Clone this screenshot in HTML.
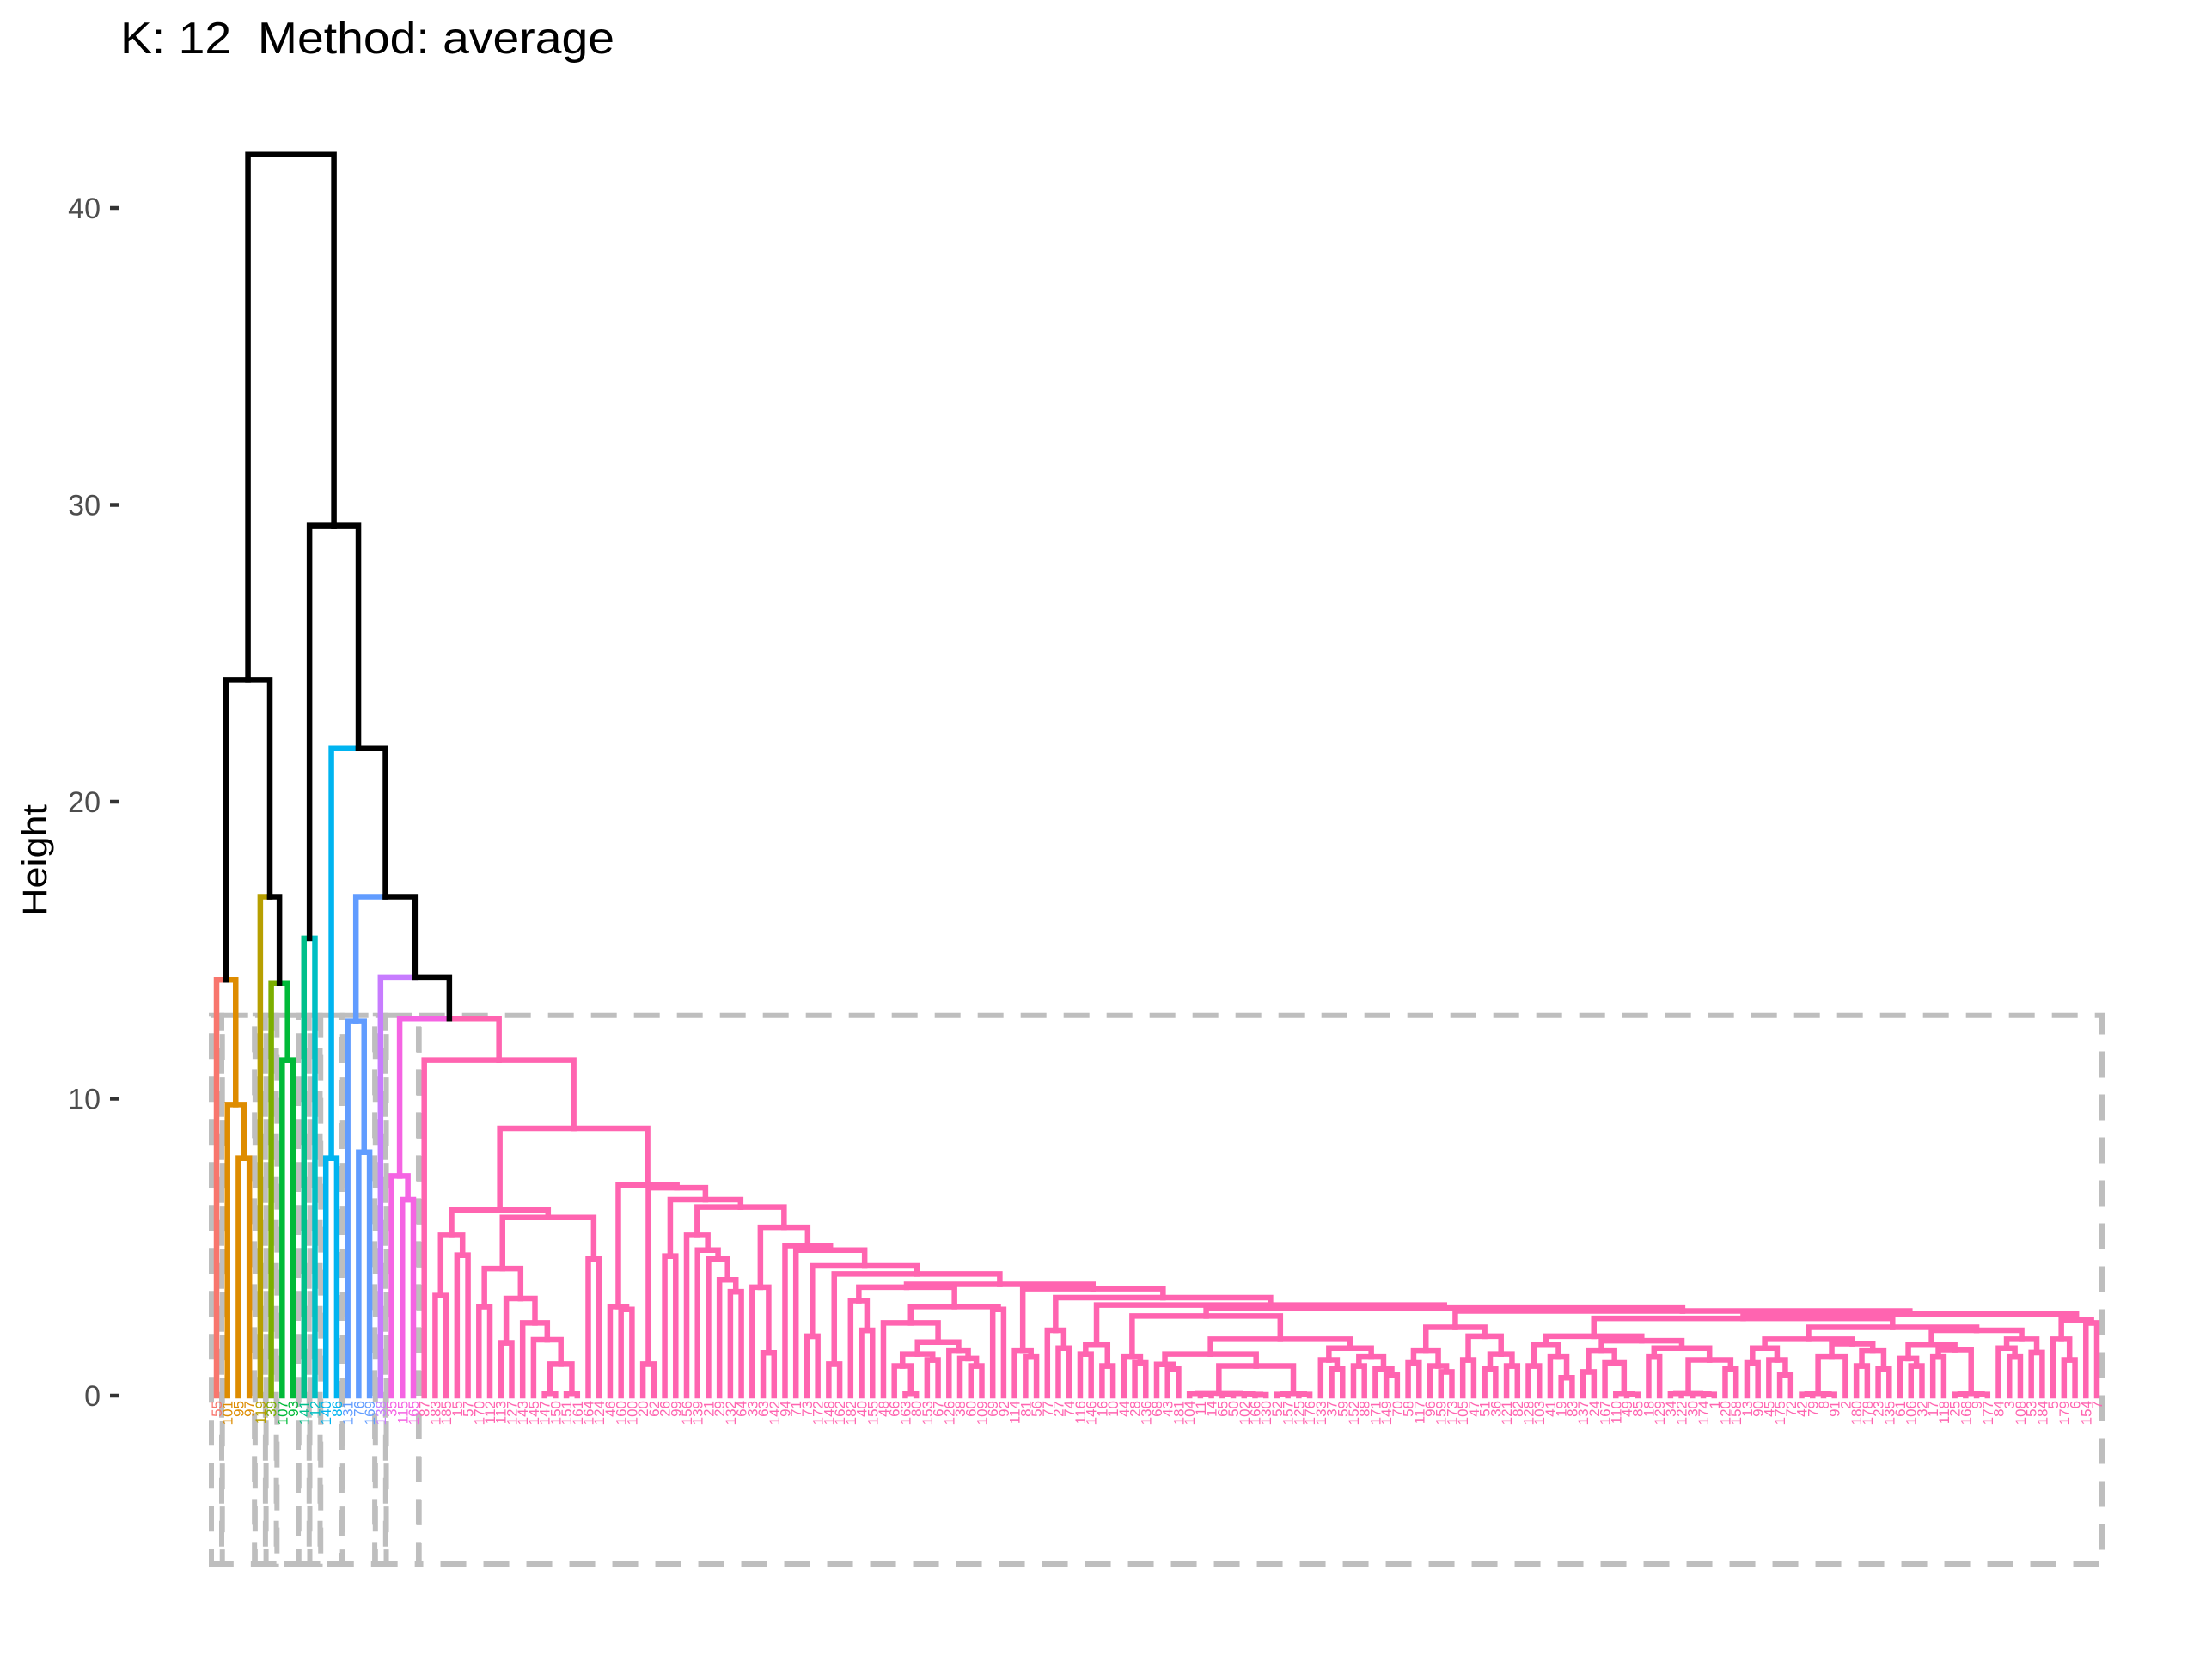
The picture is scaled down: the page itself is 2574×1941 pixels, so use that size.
<!DOCTYPE html>
<html><head><meta charset="utf-8"><style>
html,body{margin:0;padding:0;background:#fff;}
svg{display:block;font-family:"Liberation Sans",sans-serif;}
</style></head><body>
<svg id="chart" width="2574" height="1941" viewBox="0 0 2574 1941" xmlns="http://www.w3.org/2000/svg">
<rect x="0" y="0" width="2574" height="1941" fill="#fff"/>
<text x="140" y="62" font-size="52" textLength="575" lengthAdjust="spacingAndGlyphs" fill="#000">K: 12&#160;&#160;Method: average</text>
<text transform="translate(54,1001) rotate(-90)" text-anchor="middle" font-size="40" textLength="130" lengthAdjust="spacingAndGlyphs" fill="#000">Height</text>
<g id="axis"></g>
<g id="boxes"></g>
<g id="tree"></g>
<g id="labels"></g>
</svg>
<script>
// ---- data ----
const yTicks = [0, 10, 20, 30, 40];
const clusterSizes = [1, 3, 1, 1, 2, 1, 1, 2, 3, 1, 3, 154];
const clusterColors = ["#F8766D","#DE8C00","#B79F00","#7CAE00","#00BA38","#00C08B","#00BFC4","#00B4F0","#619CFF","#C77CFF","#F564E3","#FF64B0"];
const cutHeight = 12.8;
const leafLabels = [55,101,95,97,119,39,107,93,141,12,140,86,131,76,169,138,35,115,165,87,183,185,15,57,170,112,113,127,143,145,147,150,151,161,164,124,46,160,100,20,62,26,99,156,139,21,29,132,64,33,63,142,94,71,73,172,148,162,182,40,155,48,66,163,80,153,67,126,38,60,109,69,92,114,81,56,77,27,74,116,146,16,10,44,28,136,68,43,181,104,11,14,65,50,102,166,130,52,157,125,176,133,37,59,152,88,171,149,70,58,117,96,159,173,105,47,51,36,121,82,128,103,41,19,83,137,24,167,110,49,85,18,129,34,122,30,174,1,120,158,13,90,45,175,72,42,79,8,91,2,180,178,23,135,61,106,32,17,118,25,168,9,177,84,3,108,53,184,5,179,6,154,7];
// tree: [height, left, right]; 0 = leaf
const A1 = [5.4, [3.37,0,0], [4.73,0,0]];
const A2a = [4.28, [3.0,0,0], [3.27, [1.78,0,0], [2.45, 0, [1.88, 0, [1.06, [0.05,0,0], [0.05,0,0]]]]]];
const A = [6.25, A1, [6.0, A2a, [4.6,0,0]]];
const G1 = [3.65, [3.2,0,[2.2,0,0]], [3.0, [2.45, 0, [1.8, [1.4, [1.0,0,[0.05,0,0]], [1.2,0,0]], [1.5, 0, [1.25, 0, [1.0,0,0]]]]], [2.9, 0, 0]]];
const Z7 = [0.06, [0.05,0,[0.04,0,0]], [0.05,[0.04,0,0],[0.04,0,[0.03,0,0]]]];
const Z4 = [0.05, [0.04,0,0], [0.04,0,0]];
const Z3 = [0.05, 0, [0.04,0,0]];
const Z5 = [0.06, [0.05,0,0], [0.05,0,[0.04,0,0]]];
const T7 = [1.9, [1.4, [1.05,0,[0.9,0,0]], [1.0, Z7, Z4]], [1.6, [1.2,0,[0.9,0,0]], [1.3, [1.0,0,0], [0.9,0,[0.7,0,0]]]]];
const T6 = [2.68, [1.3,0,[1.1,0,0]], T7];
const T10 = [2.3, [1.5, [1.1,0,0], [1.0,0,[0.8,0,0]]], [2.0, [1.2,0,0], [1.4, [0.9,0,0], [1.0,0,0]]]];
const T15 = [2.0, [1.7, [1.0,0,0], [1.3,0,[0.6,0,0]]], [1.85, [1.5, [0.8,0,0], [1.1,0,Z3]], [1.6, [1.3,0,0], [1.2, Z5, [0.9,0,0]]]]];
const T16a = [1.9, [1.6, [1.1,0,0], [1.2,0,[0.7,0,0]]], [1.75, [1.3, Z4, 0], [1.5, [1.0,0,0], [0.9,0,0]]]];
const T16b = [2.2, [1.7, [1.25,0,[1.0,0,0]], [1.55, [1.3,0,0], Z4]], [1.9, [1.6,0,[1.3,0,0]], [1.45,0,0]]];
const TR = [2.55, [1.9, 0, [1.2,0,0]], [2.45,0,0]];
const T13 = [2.75, [2.6, T15, [2.3, T16a, T16b]], TR];
const TAIL = [3.75, G1, [3.6, [1.5,0,[1.3,0,0]], [3.3, [2.2,0,[1.6,0,0]], [3.05, [1.7,[1.4,0,0],[1.0,0,0]], [2.95, T6, [2.85, T10, T13]]]]]];
const B5 = [5.05, 0, [4.9, 0, [4.37, [2.0,0,0], [4.1, [1.06,0,0], TAIL]]]];
const B4 = [6.35, [5.4, 0, [4.9, 0, [4.6, 0, [3.9, 0, [3.5,0,0]]]]], [5.67, [3.65,0,[1.44,0,0]], B5]];
const B = [7.1, [3.0,0,[2.9,0,0]], [7.0, [1.06,0,0], [6.6, [4.7,0,0], B4]]];
const PINK = [12.7, [7.4, 0, [6.6,0,0]], [11.3, 0, [9.0, A, B]]];
const tree = [41.8,
  [24.1, [14.0, 0, [9.8, 0, [8.0,0,0]]], [16.8, 0, [13.9, 0, [11.3,0,0]]]],
  [29.3, [15.4,0,0], [21.8, [8.0,0,0], [16.8, [12.6, 0, [8.2,0,0]], [14.1, 0, PINK]]]]];

// ---- scales ----
const NS = "http://www.w3.org/2000/svg";
const y0 = 1624, yUnit = 34.55;
function Y(h){ return y0 - h*yUnit; }
const firstLeafX = 252, lastLeafX = 2440;
let nLeaves = 0;
(function cnt(n){ if(n===0){nLeaves++;return;} cnt(n[1]); cnt(n[2]); })(tree);
function X(i){ return firstLeafX + (lastLeafX-firstLeafX)*i/(nLeaves-1); }
const leafCluster = [];
clusterSizes.forEach((s,c)=>{ for(let k=0;k<s;k++) leafCluster.push(c); });
while (leafCluster.length < nLeaves) leafCluster.push(clusterSizes.length-1);

function mk(tag, attrs, parent){
  const e = document.createElementNS(NS, tag);
  for (const k in attrs) e.setAttribute(k, attrs[k]);
  parent.appendChild(e); return e;
}

// ---- axis ----
const axis = document.getElementById('axis');
yTicks.forEach(t=>{
  const tk = mk('line',{x1:128,x2:139,y1:Y(t),y2:Y(t),stroke:'#333','stroke-width':4.5},axis);
  
  
  const lb = mk('text',{x:117,y:Y(t)+12,'text-anchor':'end','font-size':34,fill:'#4D4D4D'},axis);
  
  
  lb.textContent = t;
});

// ---- cluster boxes ----
const boxes = document.getElementById('boxes');
let start = 0;
clusterSizes.forEach((s,c)=>{
  const x0 = X(start)-6, x1 = X(Math.min(start+s-1, nLeaves-1))+6;
  const r = mk('rect',{x:x0,y:Y(cutHeight),width:x1-x0,height:1820-Y(cutHeight),fill:'none',stroke:'#BEBEBE','stroke-width':6,'stroke-dasharray':'30 20'},boxes);
  
  
  start += s;
});

// ---- layout tree ----
const treeG = document.getElementById('tree');
let leafIdx = 0;
function layout(n){
  if(n===0){ const i = leafIdx++; return {x:X(i), h:0, c:leafCluster[i]}; }
  const l = layout(n[1]), r = layout(n[2]);
  const c = (l.c>=0 && l.c===r.c) ? l.c : -1;
  const mid = (l.x+r.x)/2;
  [[l, l.x], [r, r.x]].forEach(([ch, cx])=>{
    const col = ch.c>=0 ? clusterColors[ch.c] : '#000';
    const p = mk('path',{d:`M${mid},${Y(n[0])}H${cx}V${Y(ch.h)}`,fill:'none',stroke:col,'stroke-width':6.5,'stroke-linecap':'square'},treeG);
    
    
  });
  return {x:mid, h:n[0], c:c};
}
layout(tree);

// ---- leaf labels ----
const labG = document.getElementById('labels');
for(let i=0;i<nLeaves;i++){
  const t = mk('text',{transform:`translate(${X(i)+6},${y0+6}) rotate(-90)`,'text-anchor':'end','font-size':17,fill:clusterColors[leafCluster[i]]},labG);
  
  
  t.textContent = leafLabels[i % leafLabels.length];
}
</script>
</body></html>
